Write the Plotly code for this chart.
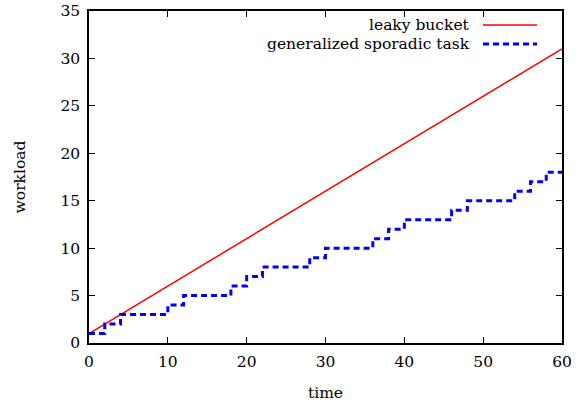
import plotly.graph_objects as go

# Data
leaky_t = [0, 60]
leaky_w = [1, 31]
step_t = [0, 2, 4, 10, 12, 18, 20, 22, 28, 30, 36, 38, 40, 46, 48, 54, 56, 58, 60]
step_w = [1, 2, 3, 4, 5, 6, 7, 8, 9, 10, 11, 12, 13, 14, 15, 16, 17, 18, 18]
x_ticks = [0, 10, 20, 30, 40, 50, 60]
y_ticks = [0, 5, 10, 15, 20, 25, 30, 35]
names = ["leaky bucket", "generalized sporadic task"]

FONT = "DejaVu Serif"
FS = 15.5
fig = go.Figure()
fig.add_trace(go.Scatter(x=leaky_t, y=leaky_w, mode="lines", name=names[0],
                         line=dict(color="#ff0000", width=1.5), showlegend=False))
fig.add_trace(go.Scatter(x=step_t, y=step_w, mode="lines", name=names[1],
                         line=dict(color="#0000ff", width=3, dash="6px,4px", shape="hv"),
                         showlegend=False))

W, H = 581, 405
ml, mr, mt, mb = 89, 19, 11, 62
pw, ph = W - ml - mr, H - mt - mb

def px(x):
    return (x - ml) / pw

def py(y):
    return 1 - (y - mt) / ph

# manual legend (text right, sample to the right)
legend_rows = [(25, "#ff0000", 1.5, "solid"), (44, "#0000ff", 3, "6px,4px")]
for (yy, col, wd, dsh), nm in zip(legend_rows, names):
    fig.add_annotation(x=px(472), y=py(yy), xref="paper", yref="paper", text=nm,
                       showarrow=False, xanchor="right", yanchor="middle",
                       font=dict(family=FONT, size=FS, color="black"))
    fig.add_shape(type="line", xref="paper", yref="paper",
                  x0=px(483), x1=px(537), y0=py(yy), y1=py(yy),
                  line=dict(color=col, width=wd, dash=dsh))

axis_common = dict(showgrid=False, zeroline=False, showline=True, linecolor="black",
                   linewidth=1.5, mirror="ticks", ticks="inside", ticklen=6,
                   tickcolor="black", tickwidth=1.2, automargin=False,
                   tickfont=dict(family=FONT, size=FS, color="black"))
fig.update_xaxes(range=[0, 60], tickvals=x_ticks, ticklabelstandoff=4,
                 title=dict(text="time", standoff=17,
                            font=dict(family=FONT, size=FS, color="black")), **axis_common)
fig.update_yaxes(range=[0, 35], tickvals=y_ticks, ticklabelstandoff=4,
                 title=dict(text="workload", standoff=31,
                            font=dict(family=FONT, size=FS, color="black")), **axis_common)
fig.update_layout(width=W, height=H, margin=dict(l=ml, r=mr, t=mt, b=mb),
                  plot_bgcolor="white", paper_bgcolor="white",
                  font=dict(family=FONT, size=FS, color="black"))
fig.write_html("out.html")
